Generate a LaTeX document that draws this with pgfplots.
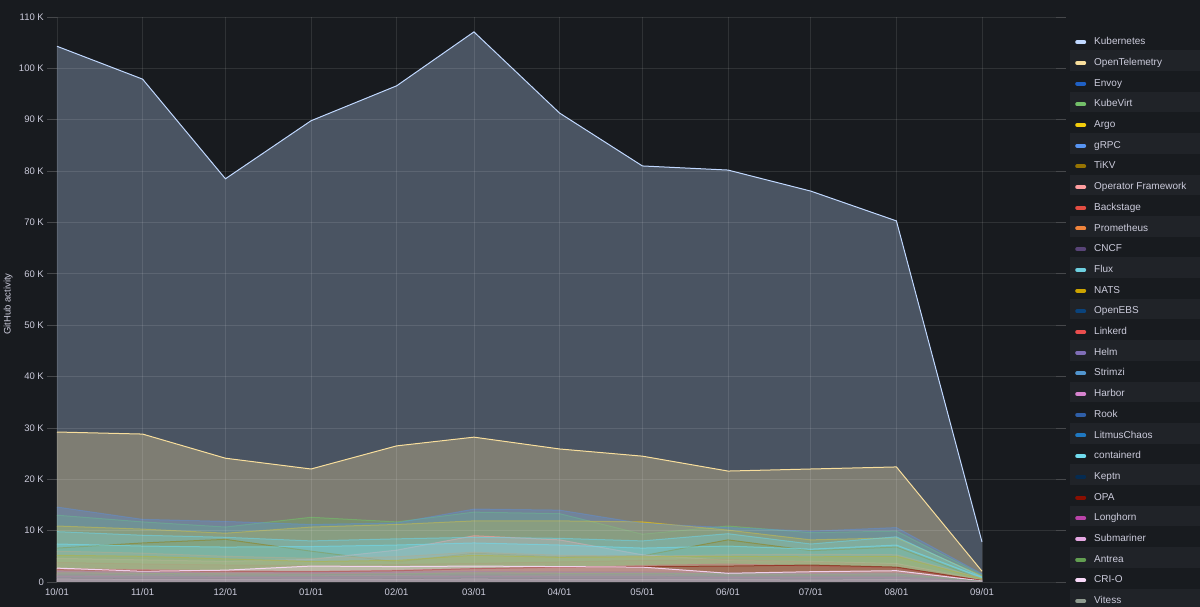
\documentclass[border=0pt]{standalone}
\usepackage{fontspec}
\setmainfont{Liberation Sans}
\usepackage{pgfplots}
\usepackage{pgfplotstable}
\pgfplotsset{compat=1.18}

\definecolor{bg}{HTML}{181B1F}
\definecolor{rowbg}{HTML}{202328}
\definecolor{txt}{HTML}{CCCCDC}

\definecolor{cKub}{HTML}{C0D8FF}
\definecolor{cOtel}{HTML}{F8DE9C}
\definecolor{cEnvoy}{HTML}{1F60C4}
\definecolor{cKubevirt}{HTML}{73BF69}
\definecolor{cArgo}{HTML}{F2CC0C}
\definecolor{cGrpc}{HTML}{5794F2}
\definecolor{cTikv}{HTML}{967302}
\definecolor{cOpfw}{HTML}{FF9EA0}
\definecolor{cBackstage}{HTML}{E24D42}
\definecolor{cProm}{HTML}{EF843C}
\definecolor{cCncf}{HTML}{584477}
\definecolor{cFlux}{HTML}{6ED0E0}
\definecolor{cNats}{HTML}{CCA300}
\definecolor{cOpenebs}{HTML}{0A437C}
\definecolor{cLinkerd}{HTML}{EA4E4E}
\definecolor{cHelm}{HTML}{806EB7}
\definecolor{cStrimzi}{HTML}{5195CE}
\definecolor{cHarbor}{HTML}{D683CE}
\definecolor{cRook}{HTML}{2F5FA8}
\definecolor{cLitmus}{HTML}{1F78C1}
\definecolor{cContainerd}{HTML}{70DBED}
\definecolor{cKeptn}{HTML}{052B51}
\definecolor{cOpa}{HTML}{890F02}
\definecolor{cLonghorn}{HTML}{BA43A9}
\definecolor{cSubmariner}{HTML}{E5A8E2}
\definecolor{cAntrea}{HTML}{629E51}
\definecolor{cCrio}{HTML}{F9D9F9}
\definecolor{cVitess}{HTML}{8F9A8F}

% GitHub activity per month, in thousands; x = days after 10/01
\pgfplotstableread{
x   kub   otel envoy kubevirt argo grpc tikv opfw backstage prom cncf flux nats openebs linkerd helm strimzi harbor rook litmus containerd keptn opa longhorn submariner antrea crio vitess
0   104.3 29.2 3.2 13.0 10.9 14.6 6.6 4.6 3.8 6.0 2.2 9.8 5.2 1.0 2.6 2.0 1.6 1.4 1.2 0.9 7.4 0.7 2.4 1.1 0.6 1.8 2.7 1.5
31  97.9  28.8 3.0 11.7 10.3 12.2 7.6 4.3 3.5 5.6 2.0 9.1 5.0 0.9 2.4 1.9 1.5 1.3 1.1 0.8 7.0 0.6 2.2 1.0 0.5 1.7 2.1 1.4
61  78.5  24.1 2.6 10.7 9.5  11.8 8.3 4.0 3.3 5.0 1.9 8.7 4.5 0.8 2.2 1.7 1.3 1.2 1.0 0.8 6.8 0.6 2.1 0.9 0.5 1.6 2.3 1.3
92  89.8  22.0 2.4 12.6 10.7 11.2 6.0 4.4 3.2 4.6 1.8 8.0 4.0 0.8 2.1 1.8 1.4 1.2 1.0 0.7 6.9 0.5 2.0 0.9 0.5 1.5 3.1 1.4
123 96.6  26.5 2.7 11.7 11.2 11.5 3.9 6.2 3.4 4.9 2.0 8.4 4.2 0.9 2.3 1.9 1.5 1.3 1.1 0.8 7.2 0.6 2.2 1.0 0.5 1.6 3.0 1.5
151 107.1 28.2 3.0 13.6 11.9 14.2 5.6 9.0 3.6 5.8 2.1 8.7 5.2 1.0 2.6 2.0 1.6 1.4 1.2 0.9 7.6 0.7 2.6 1.1 0.6 1.8 3.1 1.5
182 91.3  25.9 3.0 13.3 11.9 14.0 4.9 8.2 3.9 5.2 2.0 8.5 4.8 0.9 2.8 1.9 1.5 1.3 1.1 0.8 7.2 0.6 2.9 1.0 0.5 1.7 3.0 1.4
212 81.0  24.5 2.7 9.3  11.7 11.4 5.1 5.3 4.2 5.0 2.0 8.0 4.9 0.9 3.2 1.8 1.5 1.3 1.1 0.8 6.6 0.6 3.0 1.0 0.5 1.7 2.9 1.4
243 80.2  21.6 2.8 10.9 10.1 10.6 8.2 4.2 4.4 5.3 1.9 9.4 5.0 0.8 3.5 1.7 1.4 1.2 1.0 0.7 7.0 0.5 3.1 0.9 0.5 1.6 1.7 1.3
273 76.1  22.0 2.6 9.6  8.2  9.9  6.1 4.0 3.9 5.4 1.8 7.4 4.9 0.8 3.1 1.6 1.3 1.2 1.0 0.7 6.4 0.5 3.3 0.9 0.4 1.5 2.0 1.3
304 70.3  22.4 2.5 9.9  8.6  10.6 6.8 3.6 3.4 5.3 1.8 8.8 5.0 0.8 2.7 1.7 1.4 1.2 1.0 0.7 7.2 0.5 2.9 0.9 0.5 1.6 2.2 1.3
335 7.8   2.1  0.3 1.4  1.2  1.6  0.5 0.4 0.3 0.7 0.2 1.0 0.6 0.1 0.3 0.2 0.2 0.1 0.1 0.1 0.9 0.1 0.3 0.1 0.1 0.2 0.2 0.2
}\data

% filled area (no outline) + line, one legend entry; #4 = line opacity
\newcommand{\series}[4][0.6]{%
  \addplot[fill=#3, fill opacity=0.3, draw=none, forget plot] table[x=x, y=#2] {\data} \closedcycle;
  \addplot[draw=#3, draw opacity=#1, line width=1pt] table[x=x, y=#2] {\data};
  \addlegendentry{#4}
}

\begin{document}
\begin{tikzpicture}
\fill[bg, use as bounding box] (0pt,0pt) rectangle (1200pt,607pt);
\clip (0pt,0pt) rectangle (1200pt,607pt);
% alternating legend rows
\foreach \i in {1,3,...,27} {
  \fill[rowbg] (1070pt,{(607-29.65-20.7*\i)*1pt}) rectangle (1200pt,{(607-29.65-20.7*(\i+1))*1pt});
}
\begin{axis}[
    at={(57pt,25pt)}, anchor=south west,
    scale only axis, width=999pt, height=565pt,
    xmin=0, xmax=361.8, ymin=0, ymax=110,
    axis line style={draw=none},
    axis on top,
    grid=major,
    major grid style={draw=white, draw opacity=0.1, line width=0.8pt},
    xtick={0,31,61,92,123,151,182,212,243,273,304,335},
    xticklabels={10/01,11/01,12/01,01/01,02/01,03/01,04/01,05/01,06/01,07/01,08/01,09/01},
    ytick={0,10,...,110},
    yticklabels={0,10 K,20 K,30 K,40 K,50 K,60 K,70 K,80 K,90 K,100 K,110 K},
    tick align=outside, major tick length=10pt,
    xtick style={draw=none},
    ytick style={draw=white, draw opacity=0.2, line width=0.8pt},
    ticklabel style={font=\fontsize{9.5}{11}\selectfont, text=txt},
    yticklabel style={anchor=east, inner sep=0pt, xshift=-3pt},
    xticklabel style={anchor=north, inner sep=0pt, yshift=4pt},
    ylabel={GitHub activity},
    every axis y label/.style={at={(axis description cs:-0.049,0.492)}, anchor=center, rotate=90,
      font=\fontsize{9.5}{11}\selectfont, text=txt},
    legend cell align=left,
    legend image code/.code={\draw[#1, draw opacity=1, line width=4pt, line cap=round] (2pt,0pt) -- (9pt,0pt);},
    legend style={at={(rel axis cs:1,1)}, anchor=north west, xshift=19pt, yshift=-14.65pt,
      draw=none, fill=none, inner sep=0pt, row sep=0pt, column sep=8pt,
      font=\fontsize{10}{12}\selectfont, text=txt,
      nodes={inner sep=0pt, minimum height=20.7pt, text height=7.2pt, text depth=2pt, anchor=west}},
]
\series[1]{kub}{cKub}{Kubernetes}
\series[1]{otel}{cOtel}{OpenTelemetry}
\series{envoy}{cEnvoy}{Envoy}
\series{kubevirt}{cKubevirt}{KubeVirt}
\series{argo}{cArgo}{Argo}
\series[0.35]{grpc}{cGrpc}{gRPC}
\series[0.9]{tikv}{cTikv}{TiKV}
\series{opfw}{cOpfw}{Operator Framework}
\series{backstage}{cBackstage}{Backstage}
\series{prom}{cProm}{Prometheus}
\series{cncf}{cCncf}{CNCF}
\series{flux}{cFlux}{Flux}
\series{nats}{cNats}{NATS}
\series{openebs}{cOpenebs}{OpenEBS}
\series{linkerd}{cLinkerd}{Linkerd}
\series{helm}{cHelm}{Helm}
\series{strimzi}{cStrimzi}{Strimzi}
\series{harbor}{cHarbor}{Harbor}
\series{rook}{cRook}{Rook}
\series{litmus}{cLitmus}{LitmusChaos}
\series{containerd}{cContainerd}{containerd}
\series{keptn}{cKeptn}{Keptn}
\series{opa}{cOpa}{OPA}
\series{longhorn}{cLonghorn}{Longhorn}
\series{submariner}{cSubmariner}{Submariner}
\series{antrea}{cAntrea}{Antrea}
\series[0.9]{crio}{cCrio}{CRI-O}
\series{vitess}{cVitess}{Vitess}
\end{axis}
\end{tikzpicture}
\end{document}
